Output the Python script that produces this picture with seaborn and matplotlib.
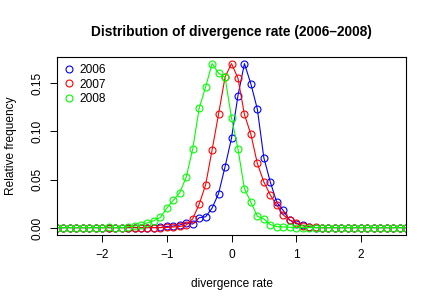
import numpy as np
import pandas as pd
import seaborn as sns
import matplotlib
matplotlib.use("Agg")
import matplotlib.pyplot as plt
from matplotlib.lines import Line2D

# divergence rate bins (-2.7 .. 2.7, step 0.1)
rate = [round(-2.7 + 0.1 * i, 1) for i in range(55)]

freq_2006 = [0.0008, 0.0008, 0.0008, 0.0008, 0.0008, 0.0008, 0.0008, 0.0008, 0.0008, 0.0008,
             0.0008, 0.0008, 0.0008, 0.0008, 0.0008, 0.0008, 0.0010, 0.0020, 0.0025, 0.0035,
             0.0055, 0.0045, 0.0110, 0.0120, 0.0210, 0.0360, 0.0635, 0.0930, 0.1370, 0.1700,
             0.1490, 0.1230, 0.0730, 0.0480, 0.0270, 0.0185, 0.0086, 0.0050, 0.0030, 0.0015,
             0.0008, 0.0008, 0.0008, 0.0008, 0.0008, 0.0008, 0.0008, 0.0008, 0.0008, 0.0008,
             0.0008, 0.0008, 0.0008, 0.0008, 0.0008]

freq_2007 = [0.0008, 0.0008, 0.0008, 0.0008, 0.0008, 0.0008, 0.0008, 0.0008, 0.0008, 0.0008,
             0.0008, 0.0008, 0.0008, 0.0008, 0.0008, 0.0008, 0.0008, 0.0010, 0.0015, 0.0020,
             0.0035, 0.0100, 0.0250, 0.0450, 0.0810, 0.1180, 0.1560, 0.1700, 0.1550, 0.1175,
             0.0970, 0.0670, 0.0480, 0.0345, 0.0240, 0.0140, 0.0086, 0.0058, 0.0028, 0.0015,
             0.0010, 0.0008, 0.0008, 0.0008, 0.0008, 0.0008, 0.0008, 0.0008, 0.0008, 0.0008,
             0.0008, 0.0008, 0.0008, 0.0008, 0.0008]

freq_2008 = [0.0008, 0.0008, 0.0008, 0.0008, 0.0008, 0.0008, 0.0008, 0.0008, 0.0015, 0.0008,
             0.0008, 0.0017, 0.0025, 0.0035, 0.0058, 0.0080, 0.0113, 0.0210, 0.0290, 0.0370,
             0.0530, 0.0820, 0.1240, 0.1460, 0.1700, 0.1600, 0.1560, 0.1140, 0.0820, 0.0410,
             0.0270, 0.0125, 0.0098, 0.0040, 0.0018, 0.0015, 0.0012, 0.0008, 0.0008, 0.0008,
             0.0008, 0.0008, 0.0008, 0.0008, 0.0008, 0.0008, 0.0008, 0.0008, 0.0008, 0.0008,
             0.0008, 0.0008, 0.0008, 0.0008, 0.0008]

years = ["2006", "2007", "2008"]
colors = ["#0000FF", "#FF0000", "#00FF00"]

df = pd.concat([
    pd.DataFrame({"rate": rate, "freq": f, "year": y})
    for y, f in zip(years, [freq_2006, freq_2007, freq_2008])
])

plt.rcParams['font.family'] = ['Liberation Sans', 'DejaVu Sans']

fig = plt.figure(figsize=(4.36, 3.06), dpi=100)
ax = fig.add_axes([57 / 436, 1 - 235 / 306, 349 / 436, 178 / 306])

sns.lineplot(data=df, x="rate", y="freq", hue="year", palette=colors,
             marker="o", markersize=5, markerfacecolor="none", markeredgewidth=0.8,
             linewidth=0.8, legend=False, ax=ax, sort=True, estimator=None)
# make marker edges follow line colours
for line in ax.lines:
    line.set_markeredgecolor(line.get_color())

ax.set_xlim(-2.7, 2.7)
ax.set_ylim(-0.0068, 0.1768)
ax.set_xticks([-2, -1, 0, 1, 2])
ax.set_yticks([0, 0.05, 0.10, 0.15])
ax.set_yticklabels(["0.00", "0.05", "0.10", "0.15"], rotation=90, va="center")
ax.tick_params(length=5, width=0.7, pad=5, labelsize=8.6)
for s in ax.spines.values():
    s.set_linewidth(0.8)

ax.set_xlabel("divergence rate", fontsize=8.6, labelpad=12)
ax.set_ylabel("Relative frequency", fontsize=8.6, labelpad=10)
ax.set_title("Distribution of divergence rate (2006–2008)", fontsize=9.9,
             fontweight="bold", pad=15)

handles = [Line2D([], [], linestyle="none", marker="o", markersize=5,
                  markerfacecolor="none", markeredgecolor=c, markeredgewidth=0.8)
           for c in colors]
ax.legend(handles, years, loc="upper left", frameon=False, fontsize=8.6,
          handlelength=0.8, handletextpad=0.5, labelspacing=0.2,
          borderaxespad=0.3, borderpad=0.3)

fig.savefig("out.png", dpi=100)
